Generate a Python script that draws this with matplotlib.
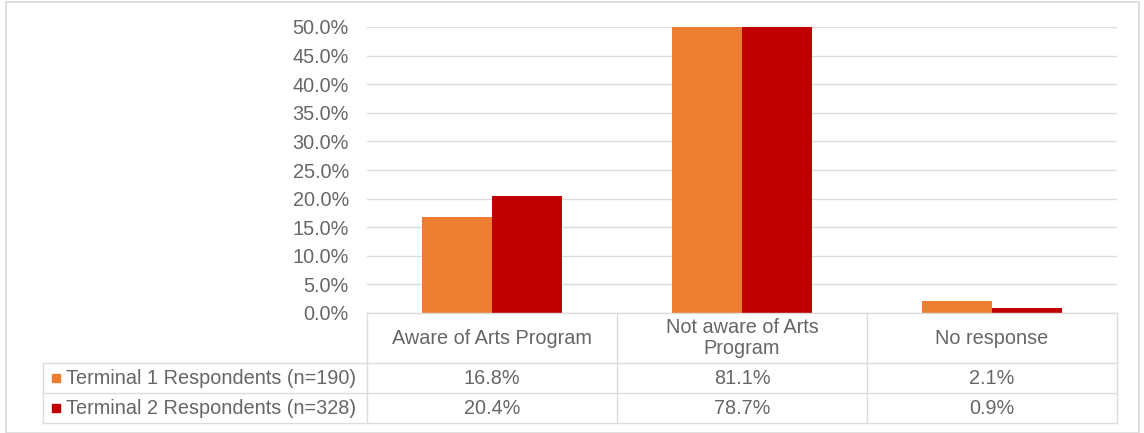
import matplotlib
matplotlib.use("Agg")
import matplotlib.pyplot as plt
from matplotlib.patches import Rectangle
from matplotlib.lines import Line2D

# Survey results
categories = ["Aware of Arts Program", "Not aware of Arts\nProgram", "No response"]
series_names = ["Terminal 1 Respondents (n=190)", "Terminal 2 Respondents (n=328)"]
terminal1 = [0.168, 0.811, 0.021]
terminal2 = [0.204, 0.787, 0.009]
series_values = [terminal1, terminal2]
series_colors = ["#ED7D31", "#C00000"]
yticks = [0.0, 0.05, 0.10, 0.15, 0.20, 0.25, 0.30, 0.35, 0.40, 0.45, 0.50]

W, H = 1144, 433
plt.rcParams["font.family"] = ["Liberation Sans", "DejaVu Sans"]
TEXT = "#666666"
GRID = "#dcdcdc"
FS = 14.3

fig = plt.figure(figsize=(W / 100, H / 100), dpi=100)
fig.patch.set_facecolor("white")


def fx(px):
    return px / W


def fy(py):
    return 1 - py / H


# plot area in pixel layout
left_px, right_px, top_px, zero_px = 367, 1117, 27, 313
ax = fig.add_axes([fx(left_px), fy(zero_px), fx(right_px - left_px), (zero_px - top_px) / H])
n = len(categories)
ax.set_xlim(-0.5, n - 0.5)
ax.set_ylim(0, 0.5)
bar_w = 0.28
for i, (vals, col) in enumerate(zip(series_values, series_colors)):
    offs = (i - 0.5) * bar_w
    ax.bar([k + offs for k in range(n)], vals, width=bar_w, color=col,
           linewidth=0, zorder=3)

ax.set_yticks(yticks)
ax.set_yticklabels([f"{t * 100:.1f}%" for t in yticks])
ax.tick_params(axis="y", length=0, pad=13, labelsize=FS, labelcolor=TEXT)
ax.set_xticks([])
ax.grid(axis="y", color=GRID, linewidth=1.0, zorder=0)
for s in ax.spines.values():
    s.set_visible(False)

# data table beneath the plot
col_edges_px = [left_px + k * (right_px - left_px) / n for k in range(n + 1)]
row_lines_px = [313, 363, 393, 423]
label_left_px = 43


def hline(y, x0, x1):
    fig.add_artist(Line2D([fx(x0), fx(x1)], [fy(y), fy(y)], color=GRID, lw=1.0))


def vline(x, y0, y1):
    fig.add_artist(Line2D([fx(x), fx(x)], [fy(y0), fy(y1)], color=GRID, lw=1.0))


hline(row_lines_px[0], left_px, right_px)
for y in row_lines_px[1:]:
    hline(y, label_left_px, right_px)
for x in col_edges_px:
    vline(x, row_lines_px[0], row_lines_px[-1])
vline(label_left_px, row_lines_px[1], row_lines_px[-1])

# header row: category names
for k, cat in enumerate(categories):
    cx = (col_edges_px[k] + col_edges_px[k + 1]) / 2
    cy = (row_lines_px[0] + row_lines_px[1]) / 2
    fig.text(fx(cx), fy(cy), cat, ha="center", va="center", fontsize=FS,
             color=TEXT, linespacing=1.15)

# value rows with legend keys
for r, (name, vals, col) in enumerate(zip(series_names, series_values, series_colors)):
    cy = (row_lines_px[r + 1] + row_lines_px[r + 2]) / 2
    fig.add_artist(Rectangle((fx(52), fy(cy + 4)), fx(8), 8 / H,
                             color=col, transform=fig.transFigure))
    fig.text(fx(66), fy(cy), name, ha="left", va="center", fontsize=FS, color=TEXT)
    for k, v in enumerate(vals):
        cx = (col_edges_px[k] + col_edges_px[k + 1]) / 2
        fig.text(fx(cx), fy(cy), f"{v * 100:.1f}%", ha="center", va="center",
                 fontsize=FS, color=TEXT)

# chart frame
fig.add_artist(Rectangle((fx(6), fy(433)), fx(1139 - 6), (433 - 2) / H,
                         fill=False, edgecolor="#d9d9d9", lw=1.2,
                         transform=fig.transFigure))

fig.savefig("out.png", dpi=100, facecolor="white")
